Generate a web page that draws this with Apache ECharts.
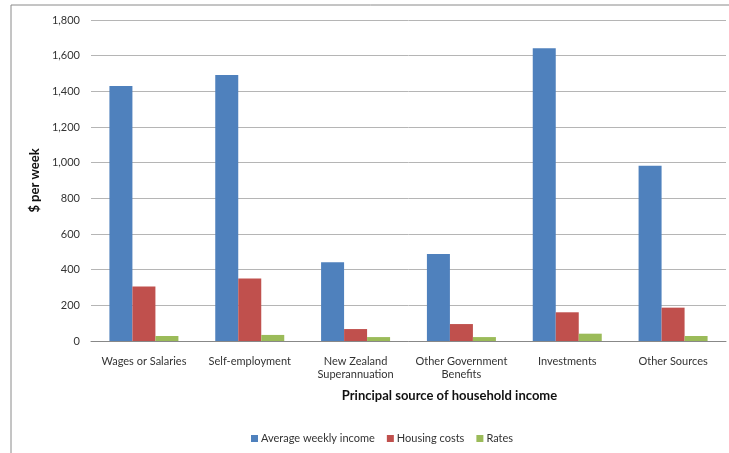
<!DOCTYPE html>
<html>
<head>
<meta charset="utf-8">
<script src="https://cdn.jsdelivr.net/npm/echarts@6/dist/echarts.min.js"></script>
<style>
  html, body { margin: 0; padding: 0; background: #fff; }
  #chart { width: 729px; height: 453px; }
</style>
</head>
<body>
<div id="chart"></div>
<script>
// Weekly household income and costs by principal income source
const categories = [
  'Wages or Salaries',
  'Self-employment',
  'New Zealand\nSuperannuation',
  'Other Government\nBenefits',
  'Investments',
  'Other Sources'
];
const seriesNames = ['Average weekly income', 'Housing costs', 'Rates'];
const averageWeeklyIncome = [1430, 1492, 441, 488, 1642, 983];
const housingCosts = [305, 350, 67, 95, 161, 187];
const rates = [28, 34, 22, 22, 41, 28];
const yTicks = { min: 0, max: 1800, interval: 200 };

const font = 'Lato, "Open Sans", sans-serif';
const colors = ['#4f81bd', '#c0504d', '#9bbb59'];

const chart = echarts.init(document.getElementById('chart'), null, { renderer: 'canvas' });

const mkSeries = (name, data, color) => ({
  name,
  type: 'bar',
  data,
  barWidth: 23,
  barGap: '0%',
  itemStyle: { color },
  emphasis: { disabled: true }
});

chart.setOption({
  animation: false,
  textStyle: { fontFamily: font },
  graphic: [{
    type: 'rect',
    shape: { x: 11, y: 5, width: 800, height: 600 },
    style: { fill: 'none', stroke: '#8a8a8a', lineWidth: 1 },
    silent: true,
    z: -1
  }],
  grid: { left: 91, right: 3, top: 20, bottom: 112, containLabel: false },
  legend: {
    data: seriesNames,
    left: 246,
    top: 428,
    itemWidth: 7,
    itemHeight: 7,
    itemGap: 12,
    icon: 'rect',
    textStyle: { fontFamily: font, fontSize: 11, color: '#333', padding: [0, 0, 0, -2] }
  },
  xAxis: {
    type: 'category',
    data: categories,
    name: 'Principal source of household income',
    nameLocation: 'middle',
    nameGap: 48,
    nameTextStyle: { fontFamily: font, fontSize: 13, fontWeight: 'bold', color: '#111', padding: [0, 0, 0, 82] },
    axisLine: { lineStyle: { color: '#888', width: 1 } },
    axisTick: { show: false },
    axisLabel: { fontFamily: font, fontSize: 11, color: '#333', margin: 14, lineHeight: 13, interval: 0 }
  },
  yAxis: {
    type: 'value',
    min: yTicks.min,
    max: yTicks.max,
    interval: yTicks.interval,
    name: '$ per week',
    nameLocation: 'middle',
    nameGap: 47,
    nameRotate: 90,
    nameTextStyle: { fontFamily: font, fontSize: 13, fontWeight: 'bold', color: '#111' },
    axisLine: { show: false },
    axisTick: { show: false },
    splitLine: { lineStyle: { color: '#b5b5b5', width: 1 } },
    axisLabel: {
      fontFamily: font, fontSize: 11, color: '#333', margin: 11,
      formatter: v => v.toLocaleString('en-US')
    }
  },
  series: [
    mkSeries(seriesNames[0], averageWeeklyIncome, colors[0]),
    mkSeries(seriesNames[1], housingCosts, colors[1]),
    mkSeries(seriesNames[2], rates, colors[2])
  ]
});
</script>
</body>
</html>
